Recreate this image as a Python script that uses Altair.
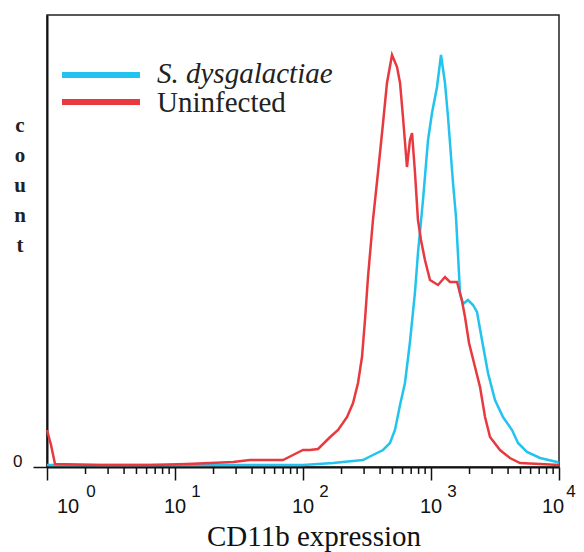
import altair as alt
import pandas as pd

# Uninfected (red) histogram: expression value, count
red_x = [1.0, 1.075, 1.155, 2.6, 6.4, 12.4, 18.8, 28.4, 38.5, 69.8,
         83.5, 100, 113, 131, 163, 188, 221, 246, 269, 289,
         305, 322, 352, 385, 422, 453, 496, 543, 573, 604,
         649, 685, 711, 750, 791, 835, 897, 982, 1135, 1286,
         1407, 1597, 1747, 1844, 1982, 2207, 2416, 2643, 2891, 3459,
         4140, 4956, 7108, 10000]
red_y = [37, 22, 3, 2, 2, 3, 4, 5, 7, 7,
         12, 17, 17, 18, 30, 37, 50, 64, 84, 110,
         147, 190, 247, 294, 344, 384, 412, 400, 384, 350,
         300, 327, 334, 294, 247, 227, 207, 187, 182, 190,
         185, 185, 166, 150, 124, 100, 80, 50, 30, 17,
         9, 4, 3, 2]

# S. dysgalactiae (blue) histogram
blue_x = [1, 100, 172, 205, 294, 352, 422, 478, 523, 573,
          626, 685, 750, 791, 866, 948, 1018, 1114, 1197, 1286,
          1358, 1486, 1568, 1686, 1778, 1945, 2129, 2287, 2502, 2788,
          3162, 3652, 4295, 4786, 5623, 7108, 9645, 10000]
blue_y = [2, 2, 4, 5, 7, 12, 17, 24, 37, 62,
          84, 125, 175, 214, 267, 327, 354, 380, 412, 384,
          350, 284, 250, 174, 163, 167, 162, 155, 127, 94,
          67, 50, 37, 24, 15, 9, 5, 4]

series_names = ["S. dysgalactiae", "Uninfected"]
series_colors = ["#22c3ee", "#e8393f"]

major_ticks = [1, 10, 100, 1000, 10000]
major_exps = ["0", "1", "2", "3", "4"]
minor_ticks = [m * 10 ** k for k in range(4) for m in range(2, 10)]

x_title = "CD11b expression"
y_title = ["c", "o", "u", "n", "t"]

SERIF = "Liberation Serif"
SANS = "Liberation Sans"

xscale = alt.Scale(type="log", domain=[1, 10000], nice=False)
yscale = alt.Scale(domain=[0, 452], nice=False, zero=True)

red_df = pd.DataFrame({"v": red_x, "c": red_y})
blue_df = pd.DataFrame({"v": blue_x, "c": blue_y})
tick_df = pd.DataFrame({"v": major_ticks, "e": major_exps})
minor_df = pd.DataFrame({"v": minor_ticks})
one = pd.DataFrame({"a": [0]})

xaxis = alt.Axis(values=major_ticks, labels=False, tickSize=13, tickWidth=1.5,
                 tickColor="#111", domainColor="#111", domainWidth=2, grid=False,
                 title=None)
yaxis = alt.Axis(values=[0], tickSize=14, tickWidth=1.5, tickColor="#111",
                 domainColor="#111", domainWidth=2, grid=False,
                 labelFont=SANS, labelFontSize=17, labelColor="#111",
                 labelPadding=11, labelOffset=-6, title=None)

blue_line = alt.Chart(blue_df).mark_line(color=series_colors[0], strokeWidth=2.5).encode(
    x=alt.X("v:Q", scale=xscale, axis=xaxis),
    y=alt.Y("c:Q", scale=yscale, axis=yaxis),
)
red_line = alt.Chart(red_df).mark_line(color=series_colors[1], strokeWidth=2.5).encode(
    x=alt.X("v:Q", scale=xscale),
    y=alt.Y("c:Q", scale=yscale),
)

minor = alt.Chart(minor_df).mark_rule(color="#111", strokeWidth=1.5).encode(
    x=alt.X("v:Q", scale=xscale), y=alt.value(452), y2=alt.value(459)
)

def ten_layer(flt, dx):
    return alt.Chart(tick_df).transform_filter(flt).mark_text(
        text="10", font=SANS, fontSize=20, color="#111", dx=dx,
        baseline="alphabetic", align="center"
    ).encode(x=alt.X("v:Q", scale=xscale), y=alt.value(498))

def exp_layer(flt, dx):
    return alt.Chart(tick_df).transform_filter(flt).mark_text(
        font=SANS, fontSize=17, color="#111", dx=dx,
        baseline="alphabetic", align="center"
    ).encode(x=alt.X("v:Q", scale=xscale), y=alt.value(482), text="e:N")

ten_first = ten_layer("datum.v == 1", 21)
ten_mid = ten_layer("datum.v > 1 && datum.v < 10000", 0)
ten_last = ten_layer("datum.v == 10000", -6)
exp_first = exp_layer("datum.v == 1", 44)
exp_mid = exp_layer("datum.v > 1 && datum.v < 10000", 21)
exp_last = exp_layer("datum.v == 10000", 12)

xtitle = alt.Chart(one).mark_text(
    text=x_title, font=SERIF, fontSize=29, color="#111",
    align="center", baseline="alphabetic"
).encode(x=alt.value(267), y=alt.value(531))

count_title = alt.Chart(one).mark_text(
    text=y_title, font=SERIF, fontSize=21, fontWeight="bold",
    lineHeight=30, color="#222", align="center", baseline="middle"
).encode(x=alt.value(-27), y=alt.value(111))

leg_blue = alt.Chart(one).mark_rule(color=series_colors[0], strokeWidth=6).encode(
    x=alt.value(15), x2=alt.value(93), y=alt.value(60))
leg_red = alt.Chart(one).mark_rule(color=series_colors[1], strokeWidth=6).encode(
    x=alt.value(15), x2=alt.value(93), y=alt.value(87))
leg_blue_t = alt.Chart(one).mark_text(
    text=series_names[0], font=SERIF, fontSize=29, fontStyle="italic", color="#222",
    align="left", baseline="alphabetic").encode(x=alt.value(110), y=alt.value(68))
leg_red_t = alt.Chart(one).mark_text(
    text=series_names[1], font=SERIF, fontSize=29, color="#222",
    align="left", baseline="alphabetic").encode(x=alt.value(110), y=alt.value(97))

chart = alt.layer(
    blue_line, red_line, minor, ten_first, ten_mid, ten_last,
    exp_first, exp_mid, exp_last, xtitle,
    count_title, leg_blue, leg_red, leg_blue_t, leg_red_t
).properties(
    width=512, height=452,
    background="white",
    autosize=alt.AutoSizeParams(type="none"),
    padding={"left": 39, "top": 7, "right": 17, "bottom": 85},
).configure_view(stroke="#222", strokeWidth=1.5)

chart.save("out.html", embed_options={"renderer": "svg", "actions": False})
